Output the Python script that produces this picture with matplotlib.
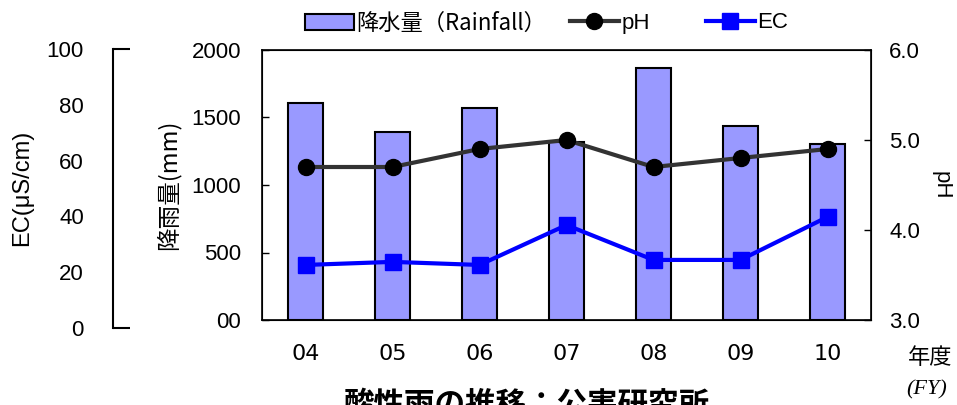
import numpy as np
import matplotlib
matplotlib.use('Agg')
import matplotlib.pyplot as plt
from matplotlib.patches import Patch
from matplotlib.lines import Line2D

plt.rcParams['font.family'] = ['Liberation Sans', 'Noto Sans CJK JP', 'DejaVu Sans']
CJK = ['Noto Sans CJK JP', 'DejaVu Sans']

# データ
years = ['04', '05', '06', '07', '08', '09', '10']
rainfall = [1610, 1390, 1570, 1320, 1870, 1440, 1300]
ph = [4.7, 4.7, 4.9, 5.0, 4.7, 4.8, 4.9]
ec = [22.6, 23.7, 22.6, 36.9, 24.4, 24.4, 39.8]

rain_ticks = [0, 500, 1000, 1500, 2000]
rain_labels = ['00', '500', '1000', '1500', '2000']
ph_ticks = [3.0, 4.0, 5.0, 6.0]
ec_inner = [20, 40, 60, 80]

W, H = 957, 405
fig = plt.figure(figsize=(W / 100, H / 100), dpi=100)

def fx(px):
    return px / W

def fy(py):
    return (H - py) / H

x = np.arange(len(years))

# 降雨量（棒グラフ）
ax = fig.add_axes([fx(262), fy(320), fx(871) - fx(262), fy(50) - fy(320)])
ax.bar(x, rainfall, width=0.4, color='#9999FF', edgecolor='black', linewidth=1.5, zorder=2)
ax.set_xlim(-0.5, 6.5)
ax.set_ylim(0, 2000)
ax.set_yticks(rain_ticks)
ax.set_yticklabels(rain_labels)
ax.tick_params(axis='y', direction='in', length=5, width=1, pad=15, labelsize=16)
ax.set_xticks(x)
ax.set_xticklabels(years, family=['Liberation Sans Narrow', 'DejaVu Sans'])
ax.tick_params(axis='x', length=0, pad=17, labelsize=16)
for s in ax.spines.values():
    s.set_linewidth(1.2)

# pH（右軸）
ax2 = ax.twinx()
ax2.plot(x, ph, color='#333333', lw=3, marker='o', ms=11.5, mfc='black', mec='black', zorder=3)
ax2.set_ylim(3.0, 6.0)
ax2.set_yticks(ph_ticks)
ax2.set_yticklabels([f'{t:.1f}' for t in ph_ticks])
ax2.tick_params(axis='y', direction='in', length=5, width=1, pad=13, labelsize=16, colors='black')

# EC（左外側の軸）
ax3 = fig.add_axes([fx(262), fy(328), fx(871) - fx(262), fy(49) - fy(328)], facecolor='none')
ax3.plot(x, ec, color='#0000FF', lw=3, marker='s', ms=11, zorder=4)
ax3.set_xlim(-0.5, 6.5)
ax3.set_ylim(0, 100)
ax3.set_xticks([])
for k in ['top', 'right', 'bottom']:
    ax3.spines[k].set_visible(False)
ax3.spines['left'].set_position(('outward', (262 - 113) * 0.72))
ax3.spines['left'].set_linewidth(1.5)
ax3.set_yticks([0, 100], labels=['0', '100'])
ax3.tick_params(axis='y', which='major', direction='in', length=12, width=1.5, pad=21, labelsize=16)
ax3.set_yticks(ec_inner, labels=[str(v) for v in ec_inner], minor=True)
ax3.tick_params(axis='y', which='minor', length=0, pad=21, labelsize=16)

# 軸タイトル
fig.text(fx(22), fy(188), 'EC(μS/cm)', rotation=90, ha='center', va='center', fontsize=17)
fig.text(fx(168), fy(185), '降雨量(mm)', rotation=90, ha='center', va='center', fontsize=17,
         family=CJK)
fig.text(fx(941), fy(185), 'pH', rotation=-90, ha='center', va='center', fontsize=16)
fig.text(fx(930), fy(358), '年度', ha='center', va='center', fontsize=16, family=CJK)
fig.text(fx(927), fy(390), '(FY)', ha='center', va='center', fontsize=16,
         family='Liberation Serif', style='italic')

# タイトル（下端で切れている）
fig.text(fx(527), fy(389), '酸性雨の推移：公害研究所', ha='center', va='top', fontsize=22,
         fontweight='bold', family=CJK)

# 凡例
leg_kw = dict(frameon=False, fontsize=16, handlelength=2.2, handletextpad=0.1,
              borderpad=0, borderaxespad=0, loc='center left')
h1 = Patch(facecolor='#9999FF', edgecolor='black', linewidth=1.5)
h2 = Line2D([], [], color='#333333', lw=3, marker='o', ms=11.5, mfc='black', mec='black')
h3 = Line2D([], [], color='#0000FF', lw=3, marker='s', ms=11)
l1 = fig.legend([h1], ['降水量（Rainfall）'], bbox_to_anchor=(fx(305), fy(23)), **leg_kw)
for t in l1.get_texts():
    t.set_family(CJK)
fig.legend([h2], ['pH'], bbox_to_anchor=(fx(570), fy(23)), **leg_kw)
fig.legend([h3], ['EC'], bbox_to_anchor=(fx(706), fy(23)), **leg_kw)

fig.savefig('out.png', dpi=100)
